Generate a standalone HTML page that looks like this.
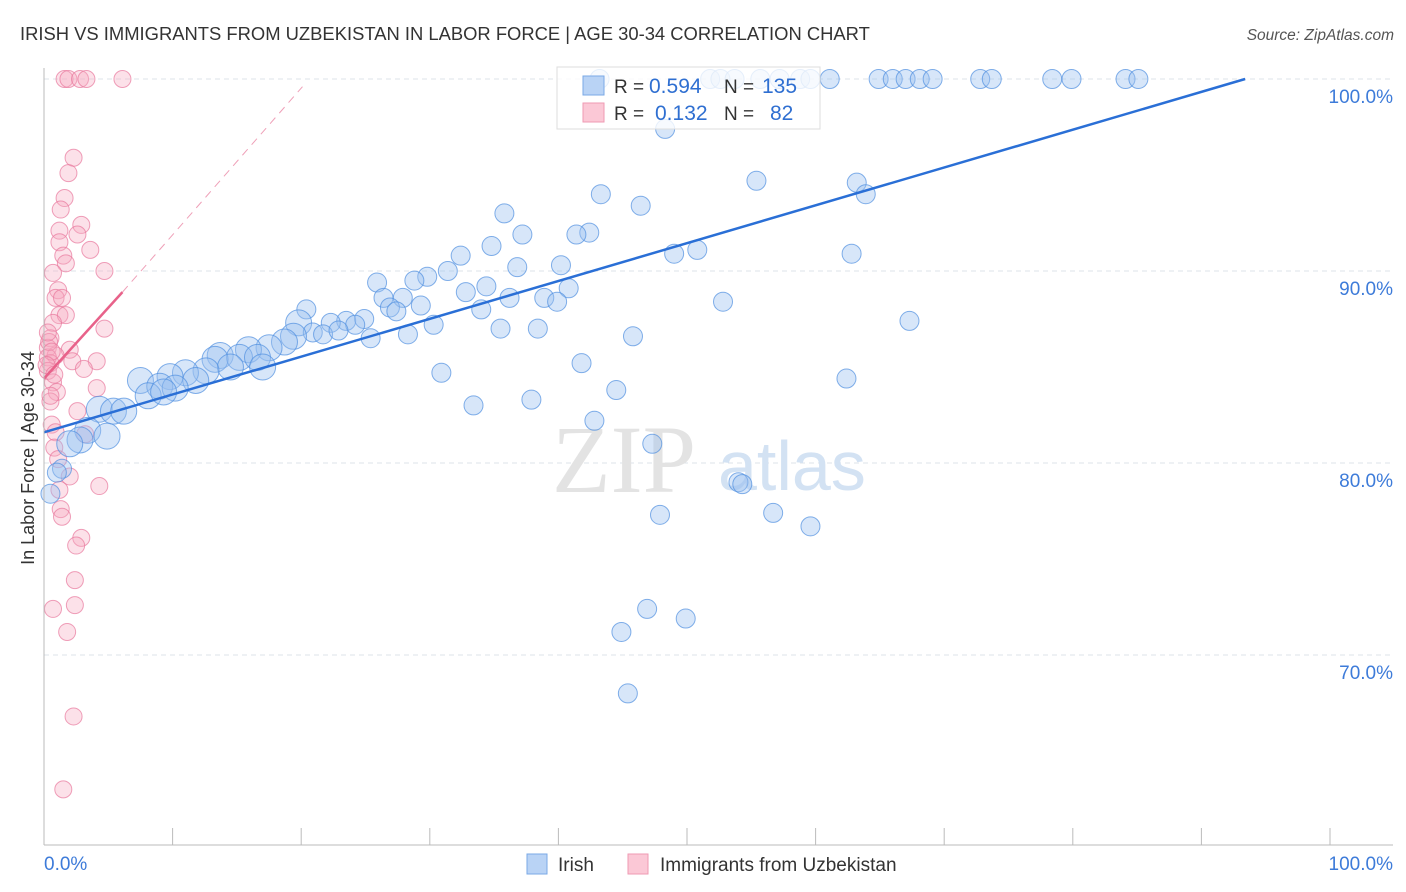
<!DOCTYPE html>
<html><head><meta charset="utf-8"><style>
body{margin:0;background:#fff;font-family:"Liberation Sans",sans-serif}
svg{display:block}
</style></head><body>
<svg width="1406" height="892" viewBox="0 0 1406 892" id="chart">
<text x="20" y="40" font-size="18.4" fill="#333">IRISH VS IMMIGRANTS FROM UZBEKISTAN IN LABOR FORCE | AGE 30-34 CORRELATION CHART</text>
<text x="1394" y="40" font-size="15.5" fill="#555" font-style="italic" text-anchor="end">Source: ZipAtlas.com</text>
<g id="grid"></g>
<g>
<text x="552" y="492" font-size="96" font-family="Liberation Serif,serif" fill="#e3e3e3">ZIP</text>
<text x="718" y="490" font-size="70" fill="#d3e2f3">atlas</text>
</g>
<g id="pink"></g>
<g id="blue"></g>
<g id="lines"></g>
<g id="axes"></g>
<text x="34" y="458" font-size="18" fill="#333" text-anchor="middle" transform="rotate(-90 34 458)">In Labor Force | Age 30-34</text>
<g>
<rect x="557" y="67" width="263" height="62" fill="#fff" fill-opacity="0.8" stroke="#ddd"/>
<rect x="583" y="76" width="21" height="19" fill="#b9d3f5" stroke="#7aa8e6"/>
<rect x="583" y="103" width="21" height="19" fill="#fbc8d6" stroke="#ef9ab3"/>
<text x="614" y="93" font-size="19" fill="#333">R =</text>
<text x="649" y="93" font-size="21" fill="#2f6fd1">0.594</text>
<text x="724" y="93" font-size="19" fill="#333">N =</text>
<text x="762" y="93" font-size="21" fill="#2f6fd1">135</text>
<text x="614" y="120" font-size="19" fill="#333">R =</text>
<text x="655" y="120" font-size="21" fill="#2f6fd1">0.132</text>
<text x="724" y="120" font-size="19" fill="#333">N =</text>
<text x="770" y="120" font-size="21" fill="#2f6fd1">82</text>
</g>
<g>
<rect x="527" y="854" width="20" height="20" fill="#b9d3f5" stroke="#7aa8e6"/>
<text x="558" y="871" font-size="19" fill="#333">Irish</text>
<rect x="628" y="854" width="20" height="20" fill="#fbc8d6" stroke="#ef9ab3"/>
<text x="660" y="871" font-size="19" fill="#333">Immigrants from Uzbekistan</text>
</g>
</svg>
<script>
const yTicks=[100,90,80,70];
const yTickLabels=["100.0%","90.0%","80.0%","70.0%"];
const xTicks=[0,10,20,30,40,50,60,70,80,90,100];
const blueX=[43.2,51.8,52.6,53.7,55.7,57.2,58.8,59.6,61.1,64.9,66.0,67.0,68.1,69.1,72.8,73.7,78.4,79.9,84.1,85.1,
48.3,55.4,63.2,63.9,43.3,46.4,35.8,42.4,41.4,37.2,34.8,32.4,50.8,49.0,62.8,40.2,36.8,31.4,29.8,28.8,25.9,34.4,40.8,32.8,26.4,27.9,36.2,38.9,39.9,52.8,29.3,26.9,27.4,34.0,20.4,67.3,30.3,19.8,23.5,22.3,24.9,24.2,35.5,38.4,20.9,21.7,22.9,28.3,45.8,25.4,19.4,18.7,17.5,15.9,13.7,15.2,16.6,13.3,41.8,17.0,14.5,12.6,11.0,9.8,30.9,62.4,7.5,11.8,9.0,10.2,8.1,9.3,44.5,37.9,33.4,4.3,5.4,6.2,42.8,3.4,4.9,2.8,2.0,47.3,1.4,1.0,54.0,54.3,0.5,47.9,56.7,59.6,46.9,49.9,44.9,45.4];
const blueY=[100,100,100,100,100,100,100,100,100,100,100,100,100,100,100,100,100,100,100,100,
97.4,94.7,94.6,94.0,94.0,93.4,93.0,92.0,91.9,91.9,91.3,90.8,91.1,90.9,90.9,90.3,90.2,90.0,89.7,89.5,89.4,89.2,89.1,88.9,88.6,88.6,88.6,88.6,88.4,88.4,88.2,88.1,87.9,88.0,88.0,87.4,87.2,87.3,87.4,87.3,87.5,87.2,87.0,87.0,86.8,86.7,86.9,86.7,86.6,86.5,86.6,86.3,86.0,85.9,85.6,85.5,85.5,85.4,85.2,85.0,85.0,84.8,84.7,84.5,84.7,84.4,84.3,84.3,84.0,83.9,83.5,83.7,83.8,83.3,83.0,82.8,82.7,82.7,82.2,81.7,81.4,81.2,81.0,81.0,79.7,79.5,79.0,78.9,78.4,77.3,77.4,76.7,72.4,71.9,71.2,68.0];
const pinkX=[1.6,1.9,2.8,3.3,6.1,2.3,1.9,1.6,1.3,2.9,1.2,2.6,1.2,3.6,1.5,1.7,4.7,0.7,1.1,0.9,1.4,1.2,1.7,0.7,4.7,0.5,0.3,2.0,0.9,0.3,0.5,4.1,2.2,0.3,3.1,0.7,4.1,1.0,0.5,2.6,0.6,0.9,3.2,0.8,1.1,2.0,4.3,1.2,1.3,1.4,2.9,2.5,2.4,2.4,0.7,1.8,2.3,1.5,0.4,0.6,0.2,0.8,0.3,0.5];
const pinkY=[100,100,100,100,100,95.9,95.1,93.8,93.2,92.4,92.1,91.9,91.5,91.1,90.8,90.4,90.0,89.9,89.0,88.6,88.6,87.7,87.7,87.3,87.0,86.5,86.0,85.9,85.6,85.5,85.2,85.3,85.3,84.8,84.9,84.2,83.9,83.7,83.2,82.7,82.0,81.6,81.5,80.8,80.2,79.3,78.8,78.6,77.6,77.2,76.1,75.7,73.9,72.6,72.4,71.2,66.8,63.0,86.3,85.8,85.1,84.6,86.8,83.5];
const blueTrend=[[0,81.6],[93.4,100]];
const pinkTrend=[[0,84.4],[6.1,88.9]];
const pinkDash=[[6.1,88.9],[20.1,99.6]];
const NS="http://www.w3.org/2000/svg";
const X=v=>44+v*12.86, Y=v=>79+(100-v)*19.2;
function mk(t,a,p){const e=document.createElementNS(NS,t);for(const k in a)e.setAttribute(k,a[k]);p.appendChild(e);return e;}
const grid=document.getElementById('grid');
yTicks.forEach((t,i)=>{
 const l=mk('line',{x1:44,x2:1393,y1:Y(t),y2:Y(t),stroke:'#dde3ea','stroke-dasharray':'5,4'},grid);
 
 
 const tx=mk('text',{x:1393,y:Y(t)+24,'font-size':19,fill:'#3d7bd9','text-anchor':'end'},grid);
 tx.textContent=yTickLabels[i];
 
 
});
const ax=document.getElementById('axes');
mk('line',{x1:44,x2:44,y1:68,y2:845,stroke:'#bbb'},ax);
mk('line',{x1:44,x2:1393,y1:845,y2:845,stroke:'#bbb'},ax);
xTicks.forEach(t=>{const l=mk('line',{x1:X(t),x2:X(t),y1:828,y2:845,stroke:'#bbb'},ax);
 
 });
let a=mk('text',{x:44,y:870,'font-size':19,fill:'#3d7bd9'},ax);a.textContent='0.0%';


a=mk('text',{x:1393,y:870,'font-size':19,fill:'#3d7bd9','text-anchor':'end'},ax);a.textContent='100.0%';


const pg=document.getElementById('pink');
pinkX.forEach((v,i)=>{const c=mk('circle',{cx:X(v),cy:Y(pinkY[i]),r:8.5,fill:'#f7a8c0','fill-opacity':0.35,stroke:'#e8789c','stroke-opacity':0.7,'stroke-width':1},pg);
 
 });
const bg=document.getElementById('blue');
blueX.forEach((v,i)=>{const r=v<20&&blueY[i]>80&&blueY[i]<88?13:9.5;
 const c=mk('circle',{cx:X(v),cy:Y(blueY[i]),r:r,fill:'#9cc0f0','fill-opacity':0.4,stroke:'#4f8ee0','stroke-opacity':0.7,'stroke-width':1},bg);
 
 });
const lg=document.getElementById('lines');
let l=mk('line',{x1:X(blueTrend[0][0]),y1:Y(blueTrend[0][1]),x2:X(blueTrend[1][0]),y2:Y(blueTrend[1][1]),stroke:'#2a6fd6','stroke-width':2.5},lg);


l=mk('line',{x1:X(pinkTrend[0][0]),y1:Y(pinkTrend[0][1]),x2:X(pinkTrend[1][0]),y2:Y(pinkTrend[1][1]),stroke:'#e8628a','stroke-width':2.5},lg);


l=mk('line',{x1:X(pinkDash[0][0]),y1:Y(pinkDash[0][1]),x2:X(pinkDash[1][0]),y2:Y(pinkDash[1][1]),stroke:'#efa0b8','stroke-width':1,'stroke-dasharray':'8,6'},lg);


</script>
</body></html>
